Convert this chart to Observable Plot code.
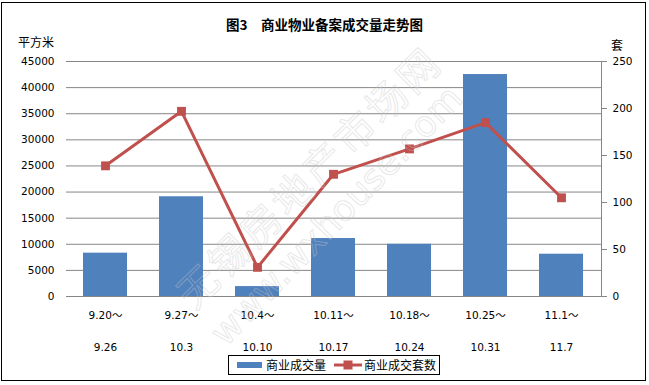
<!DOCTYPE html>
<html>
<head>
<meta charset="utf-8">
<script src="https://cdn.jsdelivr.net/npm/d3@7"></script>
<script src="https://cdn.jsdelivr.net/npm/@observablehq/plot@0.6"></script>
<style>
  body { margin: 0; background: #fff; }
  #wrap { position: relative; width: 649px; height: 385px; overflow: hidden; font-family: "Noto Sans CJK SC", "DejaVu Sans", sans-serif; }
  #border { position: absolute; left: 1px; top: 2px; width: 645px; height: 379px; border: 1.5px solid #000; box-sizing: border-box; pointer-events: none; }
  #title { position: absolute; left: 0; width: 649px; top: 14px; text-align: center; font-weight: bold; font-size: 13.5px; color: #000; white-space: nowrap; }
  .unit { position: absolute; font-size: 12px; color: #000; white-space: nowrap; }
  #legend { position: absolute; left: 228px; top: 355px; width: 212px; height: 20px; border: 1px solid #000; box-sizing: border-box; font-size: 12px; line-height: 18px; display: flex; align-items: center; white-space: nowrap; background: #fff; }
  #legend svg { display: block; flex: none; }
  #legend span { flex: none; }
  #chart { position: absolute; left: 0; top: 0; }
  #wm { position: absolute; left: 0; top: 0; pointer-events: none; }
</style>
</head>
<body>
<div id="wrap">
  <div id="chart"></div>
  <svg id="wm" width="649" height="385"></svg>
  <div id="title">图3　商业物业备案成交量走势图</div>
  <div class="unit" style="left:18px; top:33px;">平方米</div>
  <div class="unit" style="left:611px; top:36px;">套</div>
  <div id="legend"></div>
  <div id="border"></div>
</div>
<script>
const periodStart = ["9.20～", "9.27～", "10.4～", "10.11～", "10.18～", "10.25～", "11.1～"];
const periodEnd = ["9.26", "10.3", "10.10", "10.17", "10.24", "10.31", "11.7"];
const areaValues = [8300, 19100, 1900, 11100, 10000, 42500, 8100];
const countValues = [139, 197, 31, 130, 157, 185, 105];
const leftTicks = [0, 5000, 10000, 15000, 20000, 25000, 30000, 35000, 40000, 45000];
const rightTicks = [0, 50, 100, 150, 200, 250];
const seriesNames = ["商业成交量", "商业成交套数"];
const watermark = ["无锡房地产市场网", "www.wxhouse.com"];

const barColor = "#4F81BD";
const lineColor = "#C0504D";
const gridColor = "#868686";
const k = 45000 / 250;

const data = periodStart.map((s, i) => ({
  key: s + "|" + periodEnd[i],
  start: s,
  end: periodEnd[i],
  area: areaValues[i],
  count: countValues[i]
}));
const keys = data.map(d => d.key);
const startOf = Object.fromEntries(data.map(d => [d.key, d.start]));
const endOf = Object.fromEntries(data.map(d => [d.key, d.end]));

const chart = Plot.plot({
  width: 649,
  height: 385,
  marginTop: 61,
  marginBottom: 89,
  marginLeft: 66,
  marginRight: 48,
  style: { fontFamily: "'DejaVu Sans', 'Noto Sans CJK SC', sans-serif", fontSize: "10.5px", color: "#000", background: "transparent" },
  x: { domain: keys, paddingInner: 0.42, paddingOuter: 0.21, align: 0.5 },
  y: { domain: [0, 45000] },
  marks: [
    Plot.ruleY(leftTicks, { stroke: gridColor, strokeWidth: 1 }),
    Plot.barY(data, { x: "key", y: "area", fill: barColor }),
    Plot.line(data, { x: "key", y: d => d.count * k, stroke: lineColor, strokeWidth: 3 }),
    Plot.dot(data, { x: "key", y: d => d.count * k, symbol: "square", r: 5, fill: lineColor, stroke: "none" }),
    Plot.axisY({ ticks: leftTicks, tickSize: 0, tickPadding: 12, label: null, tickFormat: d => String(d) }),
    Plot.axisY({ anchor: "right", ticks: rightTicks.map(v => v * k), tickFormat: d => String(Math.round(d / k)), tickSize: 5, tickPadding: 6, stroke: gridColor, label: null }),
    Plot.frame({ anchor: "right", stroke: gridColor }),
    Plot.axisX({ tickSize: 0, tickPadding: 15, tickFormat: d => startOf[d], label: null }),
    Plot.axisX({ tickSize: 0, tickPadding: 47, tickFormat: d => endOf[d], label: null })
  ]
});
document.getElementById("chart").appendChild(chart);

// faint watermark
const wm = d3.select("#wm");
wm.append("text")
  .attr("transform", "translate(312,180) rotate(-44.5)")
  .attr("text-anchor", "middle").attr("dominant-baseline", "middle")
  .attr("font-family", "'Noto Sans CJK SC', sans-serif").attr("font-size", 40).attr("letter-spacing", 4)
  .attr("fill", "none").attr("stroke", "#c8c8c8").attr("stroke-width", 1).attr("opacity", 0.4)
  .text(watermark[0]);
wm.append("text")
  .attr("transform", "translate(338,217) rotate(-46)")
  .attr("text-anchor", "middle").attr("dominant-baseline", "middle")
  .attr("font-family", "'DejaVu Sans', sans-serif").attr("font-size", 36)
  .attr("fill", "none").attr("stroke", "#c8c8c8").attr("stroke-width", 1).attr("opacity", 0.4)
  .text(watermark[1]);

// legend
const legend = document.getElementById("legend");
legend.innerHTML = `
  <svg width="25" height="18" style="margin-left:8px"><line x1="0" x2="25" y1="9" y2="9" stroke="${barColor}" stroke-width="6"/></svg>
  <span style="margin-left:4px">${seriesNames[0]}</span>
  <svg width="28" height="18" style="margin-left:8px"><line x1="0" x2="28" y1="9" y2="9" stroke="${lineColor}" stroke-width="3"/><rect x="9.5" y="4.5" width="9" height="9" fill="${lineColor}"/></svg>
  <span style="margin-left:2px">${seriesNames[1]}</span>`;
</script>
</body>
</html>
